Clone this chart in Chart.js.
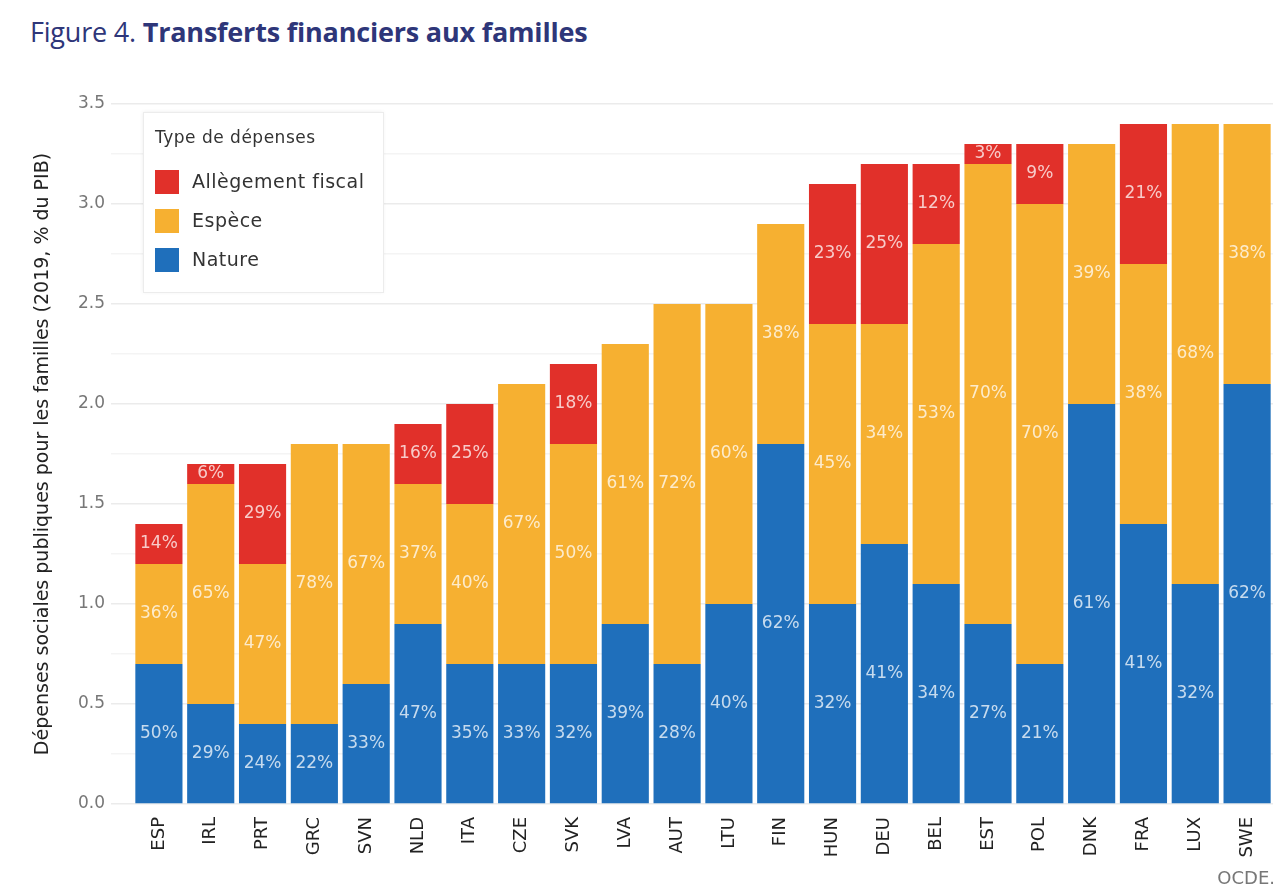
<!DOCTYPE html>
<html>
<head>
<meta charset="utf-8">
<script src="https://cdn.jsdelivr.net/npm/chart.js@4.4.1/dist/chart.umd.min.js"></script>
<style>
  html, body { margin: 0; padding: 0; background: #fff; }
  body { width: 1285px; height: 895px; position: relative; overflow: hidden; font-family: "Open Sans", "Noto Sans", sans-serif; }
  #title { position: absolute; left: 30px; top: 13px; font-size: 27px; color: #2e3679; white-space: nowrap; letter-spacing: -0.2px; }
  #title b { font-weight: 700; }
  #wrap { position: absolute; left: 0; top: 80px; width: 1285px; height: 815px; }
  #source { position: absolute; right: 10px; top: 867px; font-size: 18px; color: #777; font-family: "DejaVu Sans", sans-serif; }
</style>
</head>
<body>
<div id="title">Figure 4. <b>Transferts financiers aux familles</b></div>
<div id="wrap"><canvas id="c"></canvas></div>
<div id="source">OCDE.</div>
<script>
// ---- Data ----
const countries = ["ESP","IRL","PRT","GRC","SVN","NLD","ITA","CZE","SVK","LVA","AUT","LTU","FIN","HUN","DEU","BEL","EST","POL","DNK","FRA","LUX","SWE"];
const nature    = [0.7, 0.5, 0.4, 0.4, 0.6, 0.9, 0.7, 0.7, 0.7, 0.9, 0.7, 1.0, 1.8, 1.0, 1.3, 1.1, 0.9, 0.7, 2.0, 1.4, 1.1, 2.1];
const espece    = [0.5, 1.1, 0.8, 1.4, 1.2, 0.7, 0.8, 1.4, 1.1, 1.4, 1.8, 1.5, 1.1, 1.4, 1.1, 1.7, 2.3, 2.3, 1.3, 1.3, 2.3, 1.3];
const allegement= [0.2, 0.1, 0.5, 0.0, 0.0, 0.3, 0.5, 0.0, 0.4, 0.0, 0.0, 0.0, 0.0, 0.7, 0.8, 0.4, 0.1, 0.3, 0.0, 0.7, 0.0, 0.0];
const naturePct    = ["50%","29%","24%","22%","33%","47%","35%","33%","32%","39%","28%","40%","62%","32%","41%","34%","27%","21%","61%","41%","32%","62%"];
const especePct    = ["36%","65%","47%","78%","67%","37%","40%","67%","50%","61%","72%","60%","38%","45%","34%","53%","70%","70%","39%","38%","68%","38%"];
const allegementPct= ["14%","6%","29%","","","16%","25%","","18%","","","","","23%","25%","12%","3%","9%","","21%","",""];
const seriesNames = ["Nature","Espèce","Allègement fiscal"];
const yTickLabels = ["0.0","0.5","1.0","1.5","2.0","2.5","3.0","3.5"];

const colors = { nature: "#1f6fbb", espece: "#f6b031", allegement: "#e1302a" };

const segLabels = [naturePct, especePct, allegementPct];

const labelPlugin = {
  id: "segLabels",
  afterDatasetsDraw(chart) {
    const ctx = chart.ctx;
    ctx.save();
    ctx.font = "17px 'DejaVu Sans', sans-serif";
    ctx.fillStyle = "rgba(255,255,255,0.75)";
    ctx.textAlign = "center";
    ctx.textBaseline = "middle";
    chart.data.datasets.forEach((ds, di) => {
      const meta = chart.getDatasetMeta(di);
      meta.data.forEach((bar, i) => {
        const txt = segLabels[di][i];
        if (!txt || !ds.data[i]) return;
        const p = bar.getProps(["x","y","base"], true);
        ctx.fillText(txt, p.x, (p.y + p.base) / 2);
      });
    });
    ctx.restore();
  }
};

const legendPlugin = {
  id: "boxLegend",
  afterDraw(chart) {
    const ctx = chart.ctx;
    ctx.save();
    const bx = 143, by = 32, bw = 240, bh = 180;
    ctx.shadowColor = "rgba(0,0,0,0.08)";
    ctx.shadowBlur = 4;
    ctx.fillStyle = "#fff";
    ctx.fillRect(bx, by, bw, bh);
    ctx.shadowColor = "transparent";
    ctx.strokeStyle = "#ececec";
    ctx.lineWidth = 1;
    ctx.strokeRect(bx + 0.5, by + 0.5, bw, bh);
    ctx.fillStyle = "#333";
    ctx.textBaseline = "middle";
    ctx.textAlign = "left";
    try { ctx.letterSpacing = "0.5px"; } catch (e) {}
    ctx.font = "17px 'DejaVu Sans', sans-serif";
    ctx.fillText("Type de dépenses", 155, 59);
    const items = [2, 1, 0];
    ctx.font = "19px 'DejaVu Sans', sans-serif";
    items.forEach((di, k) => {
      const ds = chart.data.datasets[di];
      const y = 90 + k * 39;
      ctx.fillStyle = ds.backgroundColor;
      ctx.fillRect(155, y, 24, 24);
      ctx.fillStyle = "#333";
      ctx.fillText(ds.label, 192, y + 13);
    });
    ctx.restore();
  }
};

new Chart(document.getElementById("c"), {
  type: "bar",
  data: {
    labels: countries,
    datasets: [
      { label: seriesNames[0], data: nature, backgroundColor: colors.nature },
      { label: seriesNames[1], data: espece, backgroundColor: colors.espece },
      { label: seriesNames[2], data: allegement, backgroundColor: colors.allegement }
    ]
  },
  options: {
    responsive: true,
    maintainAspectRatio: false,
    animation: false,
    layout: { padding: { top: 24, right: 12, left: 0, bottom: 0 } },
    datasets: { bar: { categoryPercentage: 1.0, barPercentage: 0.91, borderWidth: 0 } },
    plugins: { legend: { display: false }, tooltip: { enabled: false } },
    scales: {
      x: {
        stacked: true,
        grid: { display: false },
        border: { display: false },
        ticks: {
          minRotation: 90, maxRotation: 90, padding: 5,
          color: "#222",
          font: { family: "'DejaVu Sans', sans-serif", size: 18 }
        },
        afterFit(s) { s.height = 91; }
      },
      y: {
        stacked: true,
        min: 0, max: 3.5,
        border: { display: false },
        grid: {
          color: (c) => (Math.round(c.tick.value * 100) % 50 === 0) ? "#ebebeb" : "#f4f4f4",
          lineWidth: 1.5,
          tickLength: 22,
          drawTicks: true
        },
        ticks: {
          stepSize: 0.25,
          padding: 6,
          autoSkip: false,
          color: "#777",
          font: { family: "'DejaVu Sans', sans-serif", size: 17 },
          callback: (v) => {
            const idx = Math.round(v * 2);
            return (Math.abs(v * 2 - idx) < 1e-6) ? yTickLabels[idx] : "";
          }
        },
        title: {
          display: true,
          text: "Dépenses sociales publiques pour les familles (2019, % du PIB)",
          color: "#222",
          font: { family: "'DejaVu Sans', sans-serif", size: 19 },
          padding: { top: 32, bottom: 0 }
        },
        afterFit(s) { s.width = 133; }
      }
    }
  },
  plugins: [labelPlugin, legendPlugin]
});
</script>
</body>
</html>
